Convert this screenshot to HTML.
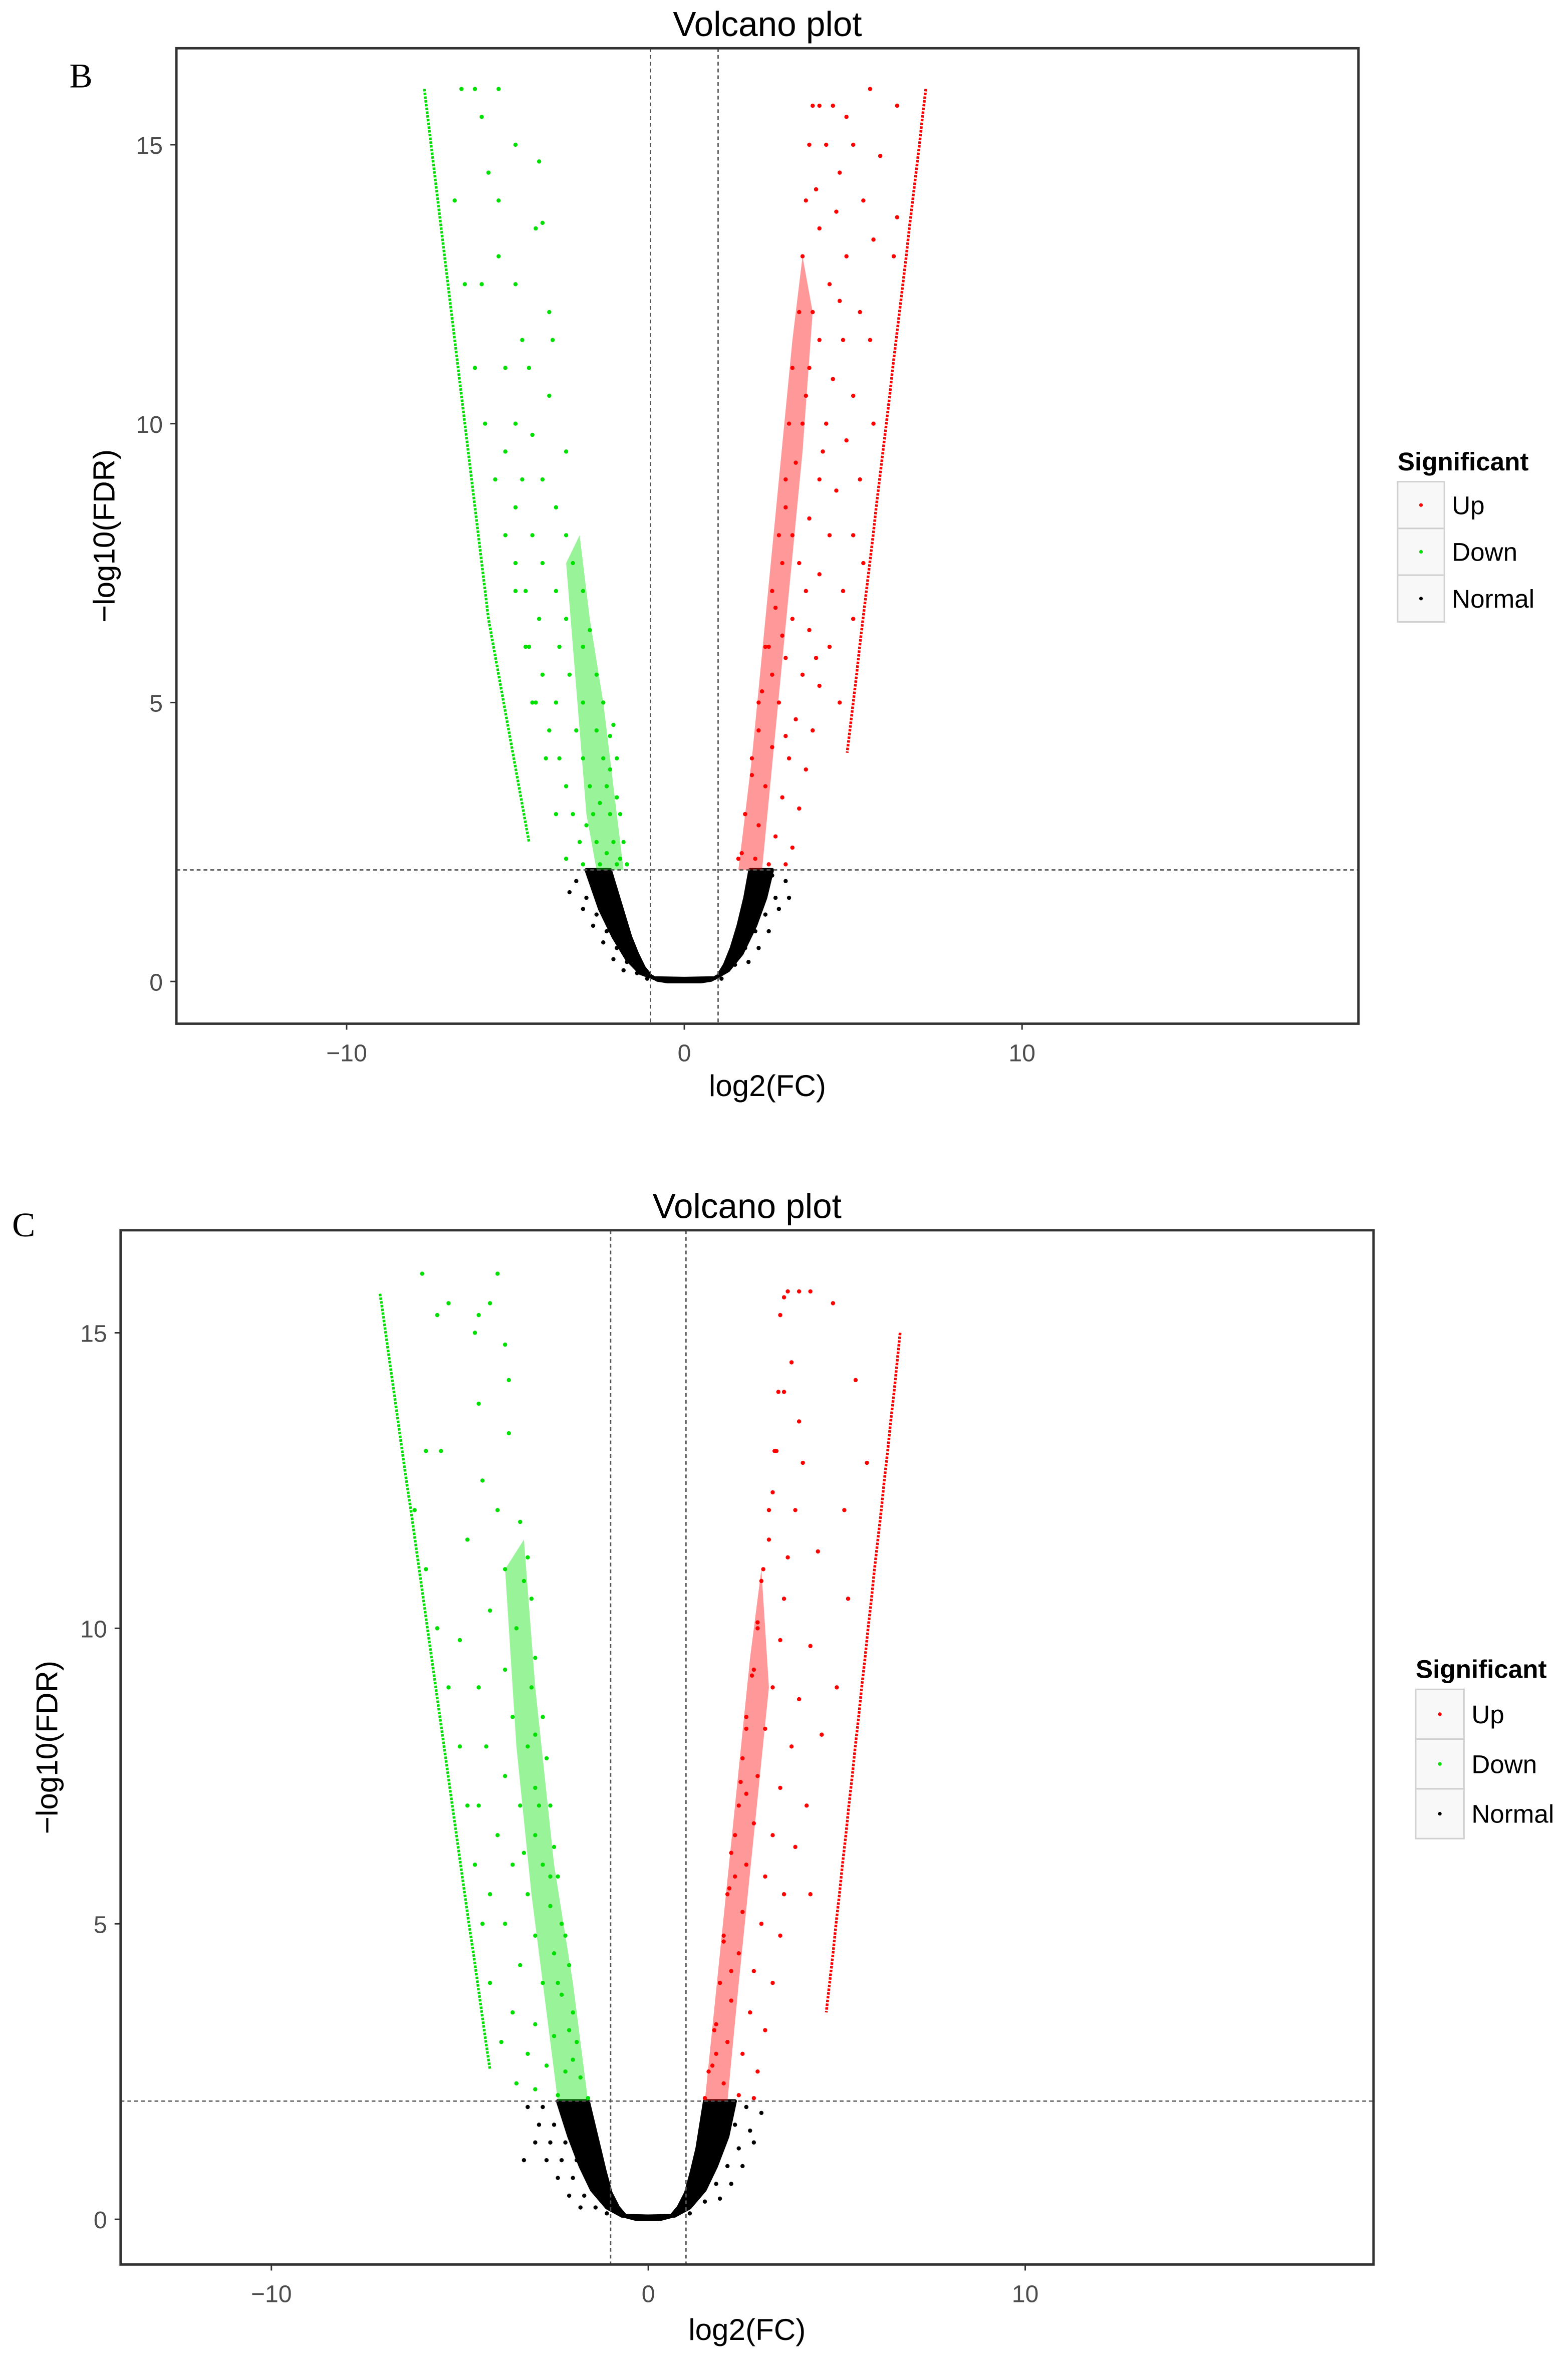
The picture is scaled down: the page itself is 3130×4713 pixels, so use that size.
<!DOCTYPE html>
<html><head><meta charset="utf-8"><style>
html,body{margin:0;padding:0;background:#fff;}
svg{display:block;font-family:"Liberation Sans",sans-serif;}
</style></head><body>
<svg id="chart" width="3130" height="4713" viewBox="0 0 1040 1566" xmlns="http://www.w3.org/2000/svg">
<rect width="1040" height="1566" fill="#fff"/>
</svg>
<script>
// ---------- data (x = log2(FC), y = -log10(FDR)) ----------
const xTicks = [-10, 0, 10];
const yTicks = [0, 5, 10, 15];
const fcCut = [-1, 1];
const fdrCut = [2];
const legendLabels = ["Up", "Down", "Normal"];

const bDownLine = [[-7.7,16],[-7.6,15.5],[-7.5,15],[-7.4,14.5],[-7.3,14],[-7.2,13.5],[-7.1,13],[-7.0,12.5],[-6.9,12],[-6.8,11.5],[-6.7,11],[-6.6,10.5],[-6.5,10],[-6.4,9.5],[-6.3,9],[-6.2,8.5],[-6.1,8],[-6.0,7.5],[-5.9,7],[-5.8,6.5],[-5.65,6],[-5.5,5.5],[-5.35,5],[-5.2,4.5],[-5.05,4],[-4.9,3.5],[-4.75,3],[-4.6,2.5]];
const bDown = [[-6.6,16],[-6.2,16],[-6.0,15.5],[-5.5,16],[-5.8,14.5],[-5.5,14],[-5.0,15],[-4.3,14.7],[-4.2,13.6],[-4.4,13.5],[-5.5,13],[-5.0,12.5],[-6.0,12.5],[-4.0,12],[-4.8,11.5],[-3.9,11.5],[-5.3,11],[-4.6,11],[-4.0,10.5],[-5.0,10],[-4.5,9.8],[-3.5,9.5],[-5.3,9.5],[-4.8,9],[-4.2,9],[-3.8,8.5],[-5.0,8.5],[-4.5,8],[-3.5,8],[-5.0,7.5],[-4.2,7.5],[-3.3,7.5],[-4.7,7],[-3.8,7],[-3.0,7],[-4.3,6.5],[-3.5,6.5],[-2.8,6.3],[-4.6,6],[-3.7,6],[-3.0,6],[-4.2,5.5],[-3.4,5.5],[-2.6,5.5],[-4.5,5],[-3.8,5],[-3.0,5],[-2.4,5],[-4.0,4.5],[-3.2,4.5],[-2.6,4.5],[-2.2,4.4],[-3.7,4],[-3.0,4],[-2.4,4],[-2.0,4],[-3.5,3.5],[-2.8,3.5],[-2.3,3.5],[-2.0,3.3],[-3.3,3],[-2.7,3],[-2.2,3],[-1.9,3],[-3.1,2.5],[-2.6,2.5],[-2.1,2.5],[-1.8,2.5],[-3.0,2.1],[-2.5,2.1],[-2.0,2.1],[-1.7,2.1],[-6.8,14],[-6.5,12.5],[-6.2,11],[-5.9,10],[-5.6,9],[-5.3,8],[-5.0,7],[-4.7,6],[-4.4,5],[-4.1,4],[-3.8,3],[-3.5,2.2],[-2.2,3.8],[-2.5,3.2],[-2.9,2.8],[-2.1,4.6],[-2.3,2.3],[-1.9,2.2]];
const bDownBand = [[-1.8,2],[-2.1,3.5],[-2.4,5],[-2.8,6.5],[-3.1,8],[-3.5,7.5],[-3.3,6],[-3.1,4.5],[-2.9,3],[-2.6,2]];
const bUpLine = [[7.15,16],[7.05,15.5],[6.96,15],[6.86,14.5],[6.76,14],[6.66,13.5],[6.57,13],[6.47,12.5],[6.37,12],[6.27,11.5],[6.17,11],[6.08,10.5],[5.98,10],[5.88,9.5],[5.78,9],[5.68,8.5],[5.59,8],[5.49,7.5],[5.39,7],[5.29,6.5],[5.19,6],[5.1,5.5],[5.0,5],[4.9,4.5],[4.82,4.1]];
const bUp = [[1.6,2.2],[1.8,3],[2.0,4],[2.2,5],[2.4,6],[2.6,7],[2.8,8],[3.0,9],[3.1,10],[3.2,11],[3.4,12],[3.5,13],[3.6,14],[3.7,15],[3.8,15.7],[4.0,15.7],[4.4,15.7],[4.8,15.5],[5.5,16],[6.3,15.7],[4.2,15],[5.0,15],[5.8,14.8],[4.6,14.5],[5.3,14],[6.3,13.7],[4.0,13.5],[4.8,13],[5.6,13.3],[6.2,13],[4.3,12.5],[5.2,12],[4.0,11.5],[4.7,11.5],[5.5,11.5],[3.7,11],[4.4,10.8],[5.0,10.5],[3.5,10],[4.2,10],[4.8,9.7],[5.6,10],[3.3,9.3],[4.0,9],[4.5,8.8],[5.2,9],[3.0,8.5],[3.7,8.3],[4.3,8],[5.0,8],[2.9,7.5],[3.4,7.5],[4.0,7.3],[4.7,7],[5.3,7.5],[2.7,6.7],[3.2,6.5],[3.7,6.3],[4.3,6],[5.0,6.5],[2.5,6],[3.0,5.8],[3.5,5.5],[4.0,5.3],[4.6,5],[2.3,5.2],[2.8,5],[3.3,4.7],[3.8,4.5],[2.2,4.5],[2.6,4.2],[3.1,4],[3.6,3.8],[2.0,3.7],[2.4,3.5],[2.9,3.3],[3.4,3.1],[1.8,3.0],[2.2,2.8],[2.7,2.6],[3.2,2.4],[1.7,2.3],[2.1,2.2],[2.5,2.1],[3.0,2.1],[3.9,14.2],[4.5,13.8],[3.8,12],[4.6,12.2],[3.6,10.5],[4.1,9.5],[3.2,8],[3.6,7],[2.9,6.2],[3.9,5.8],[2.6,5.5],[3.0,4.4]];
const bUpBand = [[1.6,2],[2.0,4],[2.4,6.5],[2.8,9],[3.2,11.5],[3.5,13],[3.8,12],[3.5,9.5],[3.1,7],[2.7,4.5],[2.3,2]];
const bNormalCore = [[-2.2,2],[-2.0,1.6],[-1.8,1.2],[-1.6,0.8],[-1.4,0.5],[-1.2,0.25],[-1.0,0.1],[-0.8,0.03],[-0.5,0],[0,0],[0.5,0],[0.8,0.03],[1.0,0.1],[1.2,0.3],[1.4,0.6],[1.6,1.0],[1.8,1.5],[1.95,2]];
const bNormalOuter = [[-2.9,2],[-2.5,1.3],[-2.1,0.8],[-1.7,0.4],[-1.3,0.15],[-0.9,0.06],[0,0.05],[0.9,0.06],[1.3,0.2],[1.7,0.5],[2.1,1.0],[2.4,1.5],[2.6,2]];
const bNormal = [[-3.2,1.8],[-2.9,1.5],[-2.6,1.2],[-2.3,0.9],[-2.0,0.6],[-1.7,0.35],[-1.4,0.15],[-2.8,1.9],[-2.5,1.6],[-2.2,1.3],[-1.9,1.0],[-1.6,0.7],[-3.0,1.3],[-2.7,1.0],[-2.4,0.7],[-2.1,0.4],[-1.8,0.2],[3.0,1.8],[2.7,1.5],[2.4,1.2],[2.1,0.9],[1.8,0.6],[1.5,0.3],[2.6,1.9],[2.3,1.6],[2.0,1.3],[1.7,0.9],[2.8,1.3],[2.5,0.9],[2.2,0.6],[1.9,0.35],[-1.1,0.05],[1.1,0.05],[-2.4,1.9],[2.2,1.9],[-3.4,1.6],[3.1,1.5]];

const cDownLine = [[-7.12,15.66],[-7.08,15.5],[-6.97,15],[-6.86,14.5],[-6.75,14],[-6.64,13.5],[-6.53,13],[-6.42,12.5],[-6.3,12],[-6.19,11.5],[-6.08,11],[-5.97,10.5],[-5.86,10],[-5.75,9.5],[-5.64,9],[-5.53,8.5],[-5.42,8],[-5.31,7.5],[-5.2,7],[-5.09,6.5],[-4.98,6],[-4.87,5.5],[-4.76,5],[-4.64,4.5],[-4.53,4],[-4.42,3.5],[-4.31,3],[-4.2,2.53]];
const cDown = [[-6.0,16],[-5.6,15.3],[-5.3,15.5],[-4.5,15.3],[-4.2,15.5],[-4.0,16],[-4.6,15],[-3.8,14.8],[-3.7,14.2],[-4.5,13.8],[-3.7,13.3],[-5.9,13],[-5.5,13],[-4.4,12.5],[-4.0,12],[-3.4,11.8],[-4.8,11.5],[-3.2,11.2],[-3.8,11],[-3.1,10.5],[-4.2,10.3],[-3.5,10],[-5.0,9.8],[-3.0,9.5],[-3.8,9.3],[-4.5,9],[-3.1,9],[-3.6,8.5],[-2.8,8.5],[-4.3,8],[-3.2,8],[-2.7,7.8],[-3.8,7.5],[-3.0,7.3],[-4.5,7],[-3.4,7],[-2.6,7],[-4.0,6.5],[-3.0,6.5],[-2.5,6.3],[-3.6,6],[-2.8,6],[-2.4,5.8],[-4.2,5.5],[-3.2,5.5],[-2.6,5.3],[-2.3,5],[-3.8,5],[-3.0,4.8],[-2.5,4.5],[-2.1,4.3],[-3.4,4.3],[-2.8,4],[-2.3,3.8],[-2.0,3.5],[-3.6,3.5],[-3.0,3.3],[-2.5,3.1],[-1.9,3],[-3.2,2.8],[-2.7,2.6],[-2.2,2.5],[-1.8,2.4],[-3.0,2.2],[-2.4,2.1],[-1.6,2.05],[-6.2,12],[-5.9,11],[-5.6,10],[-5.3,9],[-5.0,8],[-4.8,7],[-4.6,6],[-4.4,5],[-4.2,4],[-3.9,3],[-3.5,2.3],[-3.3,10.8],[-3.0,8.2],[-2.9,7],[-2.2,4.8],[-2.4,4],[-2.1,3.2],[-2.0,2.7],[-2.6,5.8],[-3.3,6.2]];
const cDownBand = [[-1.6,2],[-2.0,4],[-2.5,6],[-3.0,9],[-3.3,11.5],[-3.8,11],[-3.5,8],[-3.1,5.5],[-2.7,3.5],[-2.4,2]];
const cUpLine = [[6.68,15],[6.6,14.5],[6.52,14],[6.43,13.5],[6.35,13],[6.26,12.5],[6.18,12],[6.09,11.5],[6.0,11],[5.92,10.5],[5.83,10],[5.75,9.5],[5.66,9],[5.58,8.5],[5.49,8],[5.41,7.5],[5.32,7],[5.24,6.5],[5.15,6],[5.07,5.5],[4.98,5],[4.9,4.5],[4.81,4],[4.72,3.5]];
const cUp = [[1.5,2.05],[1.6,2.5],[1.75,3.2],[1.9,4],[2.0,4.8],[2.15,5.6],[2.3,6.5],[2.45,7.4],[2.6,8.3],[2.75,9.2],[2.9,10.1],[3.05,11],[3.2,12],[3.35,13],[3.45,14],[3.6,15.6],[3.7,15.7],[4.0,15.7],[4.3,15.7],[4.9,15.5],[3.5,15.3],[3.8,14.5],[5.5,14.2],[3.6,14],[4.0,13.5],[3.4,13],[4.1,12.8],[5.8,12.8],[3.3,12.3],[3.9,12],[5.2,12],[3.2,11.5],[3.7,11.2],[4.5,11.3],[3.0,10.8],[3.6,10.5],[5.3,10.5],[2.9,10],[3.5,9.8],[4.3,9.7],[2.8,9.3],[3.3,9],[4.0,8.8],[5.0,9],[2.6,8.5],[3.1,8.3],[3.8,8],[4.6,8.2],[2.5,7.8],[2.9,7.5],[3.5,7.3],[4.2,7],[2.4,7],[2.8,6.7],[3.3,6.5],[3.9,6.3],[2.2,6.2],[2.6,6],[3.1,5.8],[3.6,5.5],[4.3,5.5],[2.1,5.5],[2.5,5.2],[3.0,5],[3.5,4.8],[2.0,4.7],[2.4,4.5],[2.8,4.2],[3.3,4],[1.9,4],[2.2,3.7],[2.7,3.5],[3.1,3.2],[1.8,3.3],[2.1,3],[2.5,2.8],[2.9,2.5],[1.7,2.6],[2.0,2.3],[2.4,2.1],[2.8,2.05],[2.3,5.8],[2.6,7.2],[2.2,4.2],[1.8,2.8]];
const cUpBand = [[1.5,2],[1.9,4.5],[2.3,7],[2.7,9.5],[3.0,11],[3.2,9],[2.8,6.5],[2.4,4],[2.1,2]];
const cNormalCore = [[-1.6,2],[-1.45,1.6],[-1.3,1.2],[-1.15,0.8],[-1.0,0.45],[-0.8,0.2],[-0.6,0.05],[-0.3,0],[0,0],[0.3,0],[0.6,0.05],[0.8,0.2],[1.0,0.45],[1.15,0.8],[1.3,1.2],[1.4,1.6],[1.5,2]];
const cNormalOuter = [[-2.4,2],[-2.1,1.4],[-1.8,0.9],[-1.5,0.5],[-1.1,0.2],[-0.7,0.06],[0,0.05],[0.7,0.06],[1.1,0.2],[1.5,0.5],[1.8,0.9],[2.1,1.4],[2.3,2]];
const cNormal = [[-3.2,1.9],[-2.9,1.6],[-2.6,1.3],[-2.3,1.0],[-2.0,0.7],[-1.7,0.4],[-1.4,0.2],[-2.8,1.9],[-2.5,1.6],[-2.2,1.3],[-1.9,1.0],[-1.6,0.7],[-3.0,1.3],[-2.7,1.0],[-2.4,0.7],[-2.1,0.4],[-1.8,0.2],[-3.3,1.0],[3.0,1.8],[2.7,1.5],[2.4,1.2],[2.1,0.9],[1.8,0.6],[1.5,0.3],[2.6,1.9],[2.3,1.6],[2.0,1.3],[1.7,0.9],[2.8,1.3],[2.5,0.9],[2.2,0.6],[1.9,0.35],[-1.1,0.1],[1.1,0.1],[-1.9,1.8],[1.9,1.8],[-2.2,1.9],[2.2,1.9]];

// ---------- rendering ----------
const NS = "http://www.w3.org/2000/svg";
const svg = document.getElementById("chart");
function mk(tag, attrs, parent) {
  const e = document.createElementNS(NS, tag);
  for (const k in attrs) e.setAttribute(k, attrs[k]);
  (parent || svg).appendChild(e);
  return e;
}

function drawPanel(cfg, series) {
  const g = mk("g", {});
  
  
  const sx = v => cfg.x0 + (v - cfg.xmin) / (cfg.xmax - cfg.xmin) * (cfg.x1 - cfg.x0);
  const sy = v => cfg.y1 - (v - cfg.ymin) / (cfg.ymax - cfg.ymin) * (cfg.y1 - cfg.y0);
  const pts = arr => arr.map(p => sx(p[0]).toFixed(2) + "," + sy(p[1]).toFixed(2)).join(" ");

  const lbl = mk("text", {x: cfg.lx, y: cfg.ly, "font-family": '"Liberation Serif",serif', "font-size": 23, fill: "#000"}, g);
  lbl.textContent = cfg.letter;
  
  

  const t = mk("text", {x: (cfg.x0 + cfg.x1) / 2, y: cfg.y0 - 8, "text-anchor": "middle", "font-size": 23, fill: "#000"}, g);
  t.textContent = "Volcano plot";
  
  

  const clip = mk("clipPath", {id: "clip" + cfg.letter}, g);
  mk("rect", {x: cfg.x0, y: cfg.y0, width: cfg.x1 - cfg.x0, height: cfg.y1 - cfg.y0}, clip);
  const plot = mk("g", {"clip-path": "url(#clip" + cfg.letter + ")"}, g);
  
  

  const core = mk("polygon", {points: pts(series.outer.concat(series.core.slice().reverse())), fill: "#000", stroke: "#000", "stroke-width": 2.5, "stroke-linejoin": "round"}, plot);
  
  
  const db = mk("polygon", {points: pts(series.downBand), fill: "#00e000", "fill-opacity": 0.4}, plot);
  
  
  const ub = mk("polygon", {points: pts(series.upBand), fill: "#ff0000", "fill-opacity": 0.4}, plot);
  
  
  const dl = mk("polyline", {points: pts(series.downLine), fill: "none", stroke: "#00e000", "stroke-width": 1.8, "stroke-dasharray": "1.6,0.9"}, plot);
  
  
  const ul = mk("polyline", {points: pts(series.upLine), fill: "none", stroke: "#ff0000", "stroke-width": 1.8, "stroke-dasharray": "1.6,0.9"}, plot);
  
  

  const groups = [[series.normal, "#000", "normal-point"], [series.down, "#00e000", "down-point"], [series.up, "#ff0000", "up-point"]];
  groups.forEach(([arr, col, nm]) => {
    arr.forEach(p => {
      const c = mk("circle", {cx: sx(p[0]), cy: sy(p[1]), r: 1.4, fill: col}, plot);
      
      
    });
  });

  fcCut.forEach(v => {
    const l = mk("line", {x1: sx(v), x2: sx(v), y1: cfg.y0, y2: cfg.y1, stroke: "#555", "stroke-width": 0.9, "stroke-dasharray": "2.5,2"}, g);
    
    
  });
  fdrCut.forEach(v => {
    const l = mk("line", {x1: cfg.x0, x2: cfg.x1, y1: sy(v), y2: sy(v), stroke: "#555", "stroke-width": 0.9, "stroke-dasharray": "2.5,2"}, g);
    
    
  });

  const box = mk("rect", {x: cfg.x0, y: cfg.y0, width: cfg.x1 - cfg.x0, height: cfg.y1 - cfg.y0, fill: "none", stroke: "#333", "stroke-width": 1.6}, g);
  
  

  xTicks.forEach(v => {
    const tk = mk("line", {x1: sx(v), x2: sx(v), y1: cfg.y1, y2: cfg.y1 + 4, stroke: "#333", "stroke-width": 1}, g);
    
    
    const tl = mk("text", {x: sx(v), y: cfg.y1 + 25, "text-anchor": "middle", "font-size": 16, fill: "#4d4d4d"}, g);
    tl.textContent = v < 0 ? "\u2212" + Math.abs(v) : String(v);
    
    
  });
  yTicks.forEach(v => {
    const tk = mk("line", {x1: cfg.x0 - 4, x2: cfg.x0, y1: sy(v), y2: sy(v), stroke: "#333", "stroke-width": 1}, g);
    
    
    const tl = mk("text", {x: cfg.x0 - 9, y: sy(v) + 6, "text-anchor": "end", "font-size": 16, fill: "#4d4d4d"}, g);
    tl.textContent = String(v);
    
    
  });

  const xt = mk("text", {x: (cfg.x0 + cfg.x1) / 2, y: cfg.xtY, "text-anchor": "middle", "font-size": 20, fill: "#000"}, g);
  xt.textContent = "log2(FC)";
  
  
  const ytY = (cfg.y0 + cfg.y1) / 2;
  const yt = mk("text", {x: cfg.ytX, y: ytY, "text-anchor": "middle", "font-size": 20, fill: "#000", transform: "rotate(-90 " + cfg.ytX + " " + ytY + ")"}, g);
  yt.textContent = "\u2212log10(FDR)";
  
  

  const lg = mk("g", {}, g);
  
  
  const lt = mk("text", {x: cfg.legX, y: cfg.legTitleY, "font-size": 17, "font-weight": "bold", fill: "#000"}, lg);
  lt.textContent = "Significant";
  
  
  const cols = ["#ff0000", "#00e000", "#000"];
  legendLabels.forEach((name, i) => {
    const cy = cfg.legRow0 + i * cfg.legStep;
    const kb = mk("rect", {x: cfg.legX, y: cy - cfg.legStep / 2, width: cfg.legW, height: cfg.legStep, fill: "#f8f8f8", stroke: "#d0d0d0", "stroke-width": 1}, lg);
    
    
    const d = mk("circle", {cx: cfg.legX + cfg.legW / 2, cy: cy, r: 1.2, fill: cols[i]}, lg);
    
    
    const tx = mk("text", {x: cfg.legX + cfg.legW + 5, y: cy + 6, "font-size": 17, fill: "#000"}, lg);
    tx.textContent = name;
    
    
  });
}

drawPanel({name: "panel-b", letter: "B", lx: 46, ly: 58, x0: 117, x1: 901, y0: 32, y1: 679,
  xmin: -15.04, xmax: 19.96, ymin: -0.757, ymax: 16.73, xtY: 727, ytX: 76,
  legX: 927, legW: 31, legTitleY: 312, legRow0: 335, legStep: 31},
  {core: bNormalCore, outer: bNormalOuter, normal: bNormal, downLine: bDownLine, down: bDown, downBand: bDownBand, upLine: bUpLine, up: bUp, upBand: bUpBand});

drawPanel({name: "panel-c", letter: "C", lx: 8, ly: 820, x0: 80, x1: 911, y0: 816, y1: 1502,
  xmin: -14.0, xmax: 19.24, ymin: -0.765, ymax: 16.735, xtY: 1552, ytX: 38,
  legX: 939, legW: 32, legTitleY: 1113, legRow0: 1137, legStep: 33},
  {core: cNormalCore, outer: cNormalOuter, normal: cNormal, downLine: cDownLine, down: cDown, downBand: cDownBand, upLine: cUpLine, up: cUp, upBand: cUpBand});
</script>
</body></html>
